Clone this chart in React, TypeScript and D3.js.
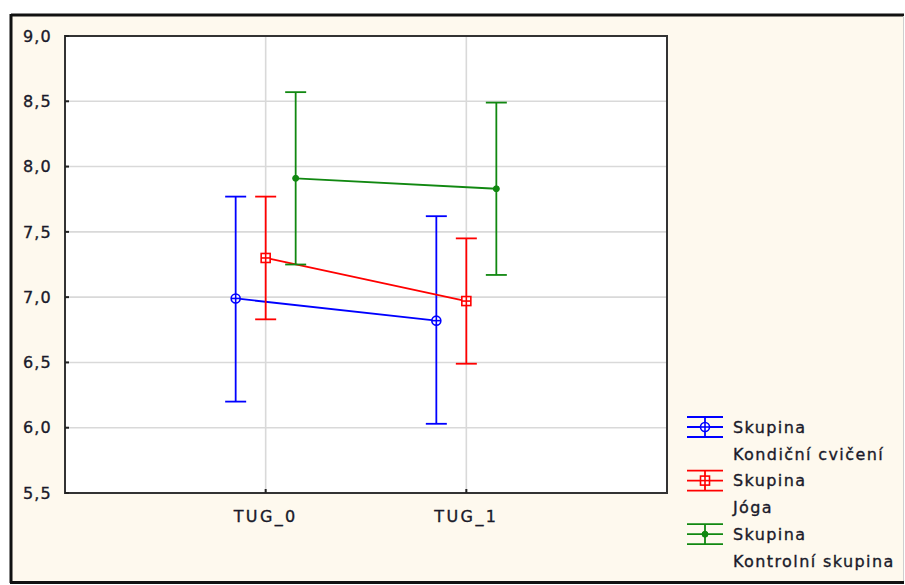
import React from "react";
import * as d3 from "d3";

const categories = ["TUG_0", "TUG_1"];
const groupNames = ["Kondiční cvičení", "Jóga", "Kontrolní skupina"];
const groupTitle = "Skupina";
const meansKond = [6.99, 6.82];
const lowerKond = [6.2, 6.03];
const upperKond = [7.77, 7.62];
const meansJoga = [7.3, 6.97];
const lowerJoga = [6.83, 6.49];
const upperJoga = [7.77, 7.45];
const meansKontrol = [7.91, 7.83];
const lowerKontrol = [7.25, 7.17];
const upperKontrol = [8.57, 8.49];
const yTicks = [5.5, 6.0, 6.5, 7.0, 7.5, 8.0, 8.5, 9.0];

const colors = ["#0000ff", "#ff0000", "#118811"];
const markers = ["circleCross", "squareCross", "dot"];

const W = 905;
const H = 585;
const plot = { left: 65, top: 36, right: 667, bottom: 493 };
const FONT = "'DejaVu Sans', Verdana, sans-serif";
const textColor = "#1a1a2a";

function Marker({ type, x, y, color }: { type: string; x: number; y: number; color: string }) {
  if (type === "circleCross") {
    return (
      <g stroke={color} strokeWidth={1.6} fill="white">
        <circle cx={x} cy={y} r={4.5} />
        <line x1={x - 4.5} x2={x + 4.5} y1={y} y2={y} />
        <line x1={x} x2={x} y1={y - 4.5} y2={y + 4.5} />
      </g>
    );
  }
  if (type === "squareCross") {
    return (
      <g stroke={color} strokeWidth={1.6} fill="white">
        <rect x={x - 4.5} y={y - 4.5} width={9} height={9} />
        <line x1={x - 4.5} x2={x + 4.5} y1={y} y2={y} />
        <line x1={x} x2={x} y1={y - 4.5} y2={y + 4.5} />
      </g>
    );
  }
  return <circle cx={x} cy={y} r={3} fill={color} stroke={color} strokeWidth={1} />;
}

export default function App() {
  const y = d3.scaleLinear().domain([5.5, 9]).range([plot.bottom, plot.top]);
  const x = d3.scalePoint<string>().domain(categories).range([plot.left, plot.right]).padding(1);
  const off = d3.scalePoint<string>().domain(groupNames).range([-30, 30]);
  const series = [
    { name: groupNames[0], m: meansKond, lo: lowerKond, hi: upperKond },
    { name: groupNames[1], m: meansJoga, lo: lowerJoga, hi: upperJoga },
    { name: groupNames[2], m: meansKontrol, lo: lowerKontrol, hi: upperKontrol },
  ];
  const line = d3
    .line<[number, number]>()
    .x((d) => d[0])
    .y((d) => d[1]);
  const cap = 10.5;
  const fmt = (v: number) => v.toFixed(1).replace(".", ",");

  const legendX = 687;
  const legendTop = 427;
  const rowH = 26.8;
  const textProps = { fill: textColor, stroke: textColor, strokeWidth: 0.35, fontSize: 16 };

  return (
    <svg
      width={W}
      height={H}
      style={{ position: "absolute", left: 0, top: 0, display: "block" }}
      fontFamily={FONT}
    >
      <rect x={0} y={0} width={W} height={H} fill="white" />
      <rect x={11} y={15} width={893} height={567} fill="#fef9ee" />
      <line x1={11} x2={904} y1={15} y2={15} stroke="#111" strokeWidth={3} />
      <line x1={11} x2={11} y1={14} y2={583} stroke="#111" strokeWidth={3} />
      <line x1={10} x2={904} y1={582.5} y2={582.5} stroke="#111" strokeWidth={3} />
      <line x1={903.5} x2={903.5} y1={16} y2={581} stroke="#cfcfcf" strokeWidth={1} />

      {/* plot area */}
      <rect
        x={plot.left}
        y={plot.top}
        width={plot.right - plot.left}
        height={plot.bottom - plot.top}
        fill="white"
      />
      {yTicks.map((t) => (
        <line
          key={"gy" + t}
          x1={plot.left}
          x2={plot.right}
          y1={y(t)}
          y2={y(t)}
          stroke="#d9d9d9"
          strokeWidth={1.6}
        />
      ))}
      {categories.map((c) => (
        <line
          key={"gx" + c}
          x1={x(c)}
          x2={x(c)}
          y1={plot.top}
          y2={plot.bottom}
          stroke="#d9d9d9"
          strokeWidth={1.6}
        />
      ))}
      <rect
        x={plot.left}
        y={plot.top}
        width={plot.right - plot.left}
        height={plot.bottom - plot.top}
        fill="none"
        stroke="#333"
        strokeWidth={2}
      />
      {yTicks.map((t) => (
        <g key={"ty" + t}>
          <line x1={plot.left} x2={plot.left + 4} y1={y(t)} y2={y(t)} stroke="#222" strokeWidth={2} />
          <text x={52} y={y(t)} dy="0.36em" textAnchor="end" letterSpacing={1.2} {...textProps}>
            {fmt(t)}
          </text>
        </g>
      ))}
      {categories.map((c) => (
        <g key={"tx" + c}>
          <line x1={x(c)} x2={x(c)} y1={plot.bottom} y2={plot.bottom - 4} stroke="#222" strokeWidth={2} />
          <text x={x(c)} y={522} textAnchor="middle" letterSpacing={2.4} {...textProps}>
            {c}
          </text>
        </g>
      ))}

      {/* series */}
      {series.map((s, si) => {
        const pts: [number, number][] = categories.map((c, i) => [
          (x(c) as number) + (off(s.name) as number),
          y(s.m[i]),
        ]);
        return (
          <g key={s.name}>
            <path d={line(pts) || ""} fill="none" stroke={colors[si]} strokeWidth={1.8} />
            {categories.map((c, i) => {
              const cx = (x(c) as number) + (off(s.name) as number);
              return (
                <g key={c} stroke={colors[si]} strokeWidth={1.8}>
                  <line x1={cx} x2={cx} y1={y(s.hi[i])} y2={y(s.lo[i])} />
                  <line x1={cx - cap} x2={cx + cap} y1={y(s.hi[i])} y2={y(s.hi[i])} />
                  <line x1={cx - cap} x2={cx + cap} y1={y(s.lo[i])} y2={y(s.lo[i])} />
                </g>
              );
            })}
            {categories.map((c, i) => (
              <Marker
                key={"m" + c}
                type={markers[si]}
                x={(x(c) as number) + (off(s.name) as number)}
                y={y(s.m[i])}
                color={colors[si]}
              />
            ))}
          </g>
        );
      })}

      {/* legend */}
      {series.map((s, si) => {
        const cy = legendTop + si * 2 * rowH;
        const cx = legendX + 18;
        return (
          <g key={"lg" + s.name}>
            <g stroke={colors[si]} strokeWidth={1.8}>
              <line x1={legendX} x2={legendX + 36} y1={cy - 10} y2={cy - 10} />
              <line x1={legendX} x2={legendX + 36} y1={cy} y2={cy} />
              <line x1={legendX} x2={legendX + 36} y1={cy + 10} y2={cy + 10} />
              <line x1={cx} x2={cx} y1={cy - 10} y2={cy + 10} />
            </g>
            <Marker type={markers[si]} x={cx} y={cy} color={colors[si]} />
            <text x={733} y={cy} dy="0.36em" letterSpacing={1.4} {...textProps}>
              {groupTitle}
            </text>
            <text x={733} y={cy + rowH} dy="0.36em" letterSpacing={1.4} {...textProps}>
              {s.name}
            </text>
          </g>
        );
      })}
    </svg>
  );
}
